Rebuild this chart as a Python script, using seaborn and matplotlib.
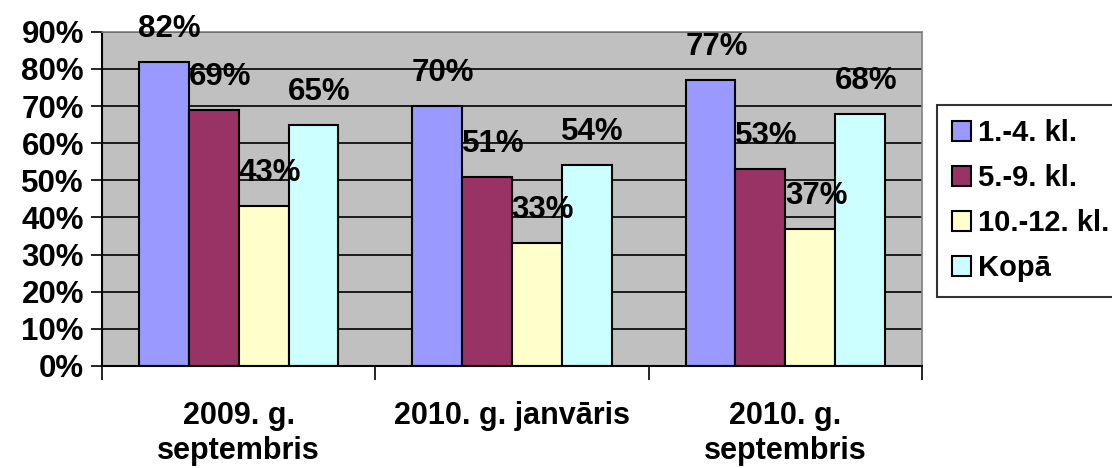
import matplotlib
matplotlib.use("Agg")
import matplotlib.pyplot as plt
import pandas as pd
import seaborn as sns
from matplotlib.ticker import FixedLocator, PercentFormatter

periods = ["2009. g.\nseptembris", "2010. g. janvāris", "2010. g.\nseptembris"]
groups = ["1.-4. kl.", "5.-9. kl.", "10.-12. kl.", "Kopā"]
values = {
    "1.-4. kl.": [82, 70, 77],
    "5.-9. kl.": [69, 51, 53],
    "10.-12. kl.": [43, 33, 37],
    "Kopā": [65, 54, 68],
}
colors = ["#9999FF", "#993366", "#FFFFCC", "#CCFFFF"]

rows = []
for g in groups:
    for p, v in zip(periods, values[g]):
        rows.append({"periods": p, "grupa": g, "vertiba": v})
df = pd.DataFrame(rows)

sns.set_style("white")
plt.rcParams["font.family"] = ["Liberation Sans", "DejaVu Sans"]
plt.rcParams["font.weight"] = "bold"
plt.rcParams["text.color"] = "black"
plt.rcParams["xtick.color"] = "black"
plt.rcParams["ytick.color"] = "black"

fig = plt.figure(figsize=(11.12, 4.68), dpi=100)
ax = fig.add_axes([0.0917, 0.218, 0.7374, 0.714])
ax.set_facecolor("#C0C0C0")

sns.barplot(data=df, x="periods", y="vertiba", hue="grupa", order=periods,
            hue_order=groups, palette=colors, width=0.73, saturation=1,
            edgecolor="black", linewidth=1.5, ax=ax, legend=True)

ax.set_ylim(0, 90)
ax.set_xlim(-0.5, 2.5)
ax.set_yticks(range(0, 91, 10))
ax.yaxis.set_major_formatter(PercentFormatter(decimals=0))
ax.yaxis.grid(True, color="black", linewidth=1.2)
ax.set_axisbelow(True)
ax.set_xlabel("")
ax.set_ylabel("")

ax.tick_params(axis="y", which="major", direction="out", length=8, width=1.2,
               color="black", labelsize=22.5, pad=5, left=True)
ax.tick_params(axis="x", which="major", length=0, labelsize=22, pad=25)
ax.xaxis.set_minor_locator(FixedLocator([-0.5, 0.5, 1.5, 2.5]))
ax.tick_params(axis="x", which="minor", direction="out", length=10, width=1.2,
               color="black", bottom=True)
for lbl in ax.get_xticklabels():
    lbl.set_fontweight("bold")
    lbl.set_linespacing(1.22)
for lbl in ax.get_yticklabels():
    lbl.set_fontweight("bold")

for s in ["left", "bottom"]:
    ax.spines[s].set_color("black")
    ax.spines[s].set_linewidth(1.5)
for s in ["top", "right"]:
    ax.spines[s].set_color("#808080")
    ax.spines[s].set_linewidth(1.2)

for cont in ax.containers:
    for bar in cont:
        h = bar.get_height()
        ax.annotate(f"{h:.0f}%", (bar.get_x() + bar.get_width() / 2, h),
                    xytext=(6, 33), textcoords="offset pixels",
                    ha="center", va="center", fontsize=22.5, fontweight="bold",
                    annotation_clip=False)

handles, labels = ax.get_legend_handles_labels()
ax.get_legend().remove()
leg = fig.legend(handles, labels, loc="upper left", bbox_to_anchor=(0.843, 0.776),
                 frameon=True, fancybox=False, edgecolor="black",
                 prop={"size": 21, "weight": "bold"}, handlelength=0.65,
                 handleheight=0.65, handletextpad=0.25, labelspacing=0.58,
                 borderpad=0.5, borderaxespad=0)
leg.get_frame().set_linewidth(1.5)

fig.savefig("out.png", dpi=100)
